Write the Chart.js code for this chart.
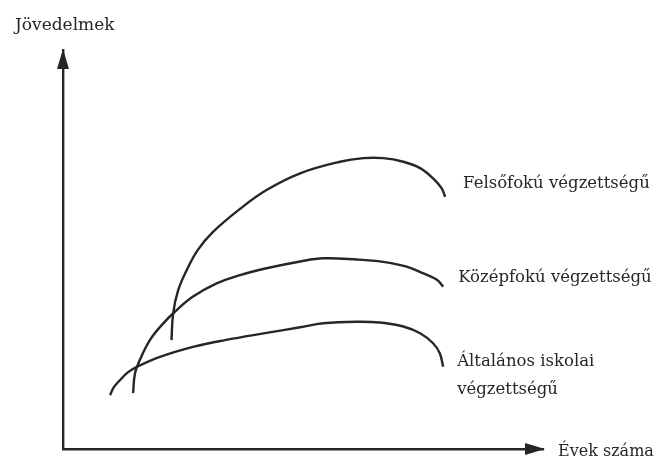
<!DOCTYPE html>
<html lang="hu">
<head>
<meta charset="utf-8">
<script src="https://cdn.jsdelivr.net/npm/chart.js@4.4.1/dist/chart.umd.min.js"></script>
<style>
  html, body { margin: 0; padding: 0; background: #fff; }
  canvas { display: block; }
</style>
</head>
<body>
<canvas id="chart" width="658" height="463"></canvas>
<script>
// earnings profiles (arbitrary units: x = years, y = income)
const higherYears  = [22.6, 22.95, 24.0, 25.8, 28.1, 31.25, 36.9, 42.4, 49.4, 57.7, 62.6, 66.7, 70.9, 74.4, 77.1, 78.9, 79.6];
const higherIncome = [27.3, 34.0, 39.8, 44.9, 49.9, 54.4, 60.2, 64.9, 69.1, 72.0, 72.9, 72.9, 72.0, 70.4, 67.8, 65.3, 63.2];

const secondaryYears  = [14.6, 15.0, 16.0, 18.1, 20.6, 23.3, 27.1, 32.0, 36.9, 42.4, 49.4, 54.2, 61.2, 66.7, 71.6, 75.1, 77.9, 79.2];
const secondaryIncome = [14.0, 19.0, 22.3, 27.3, 31.1, 34.4, 38.2, 41.5, 43.6, 45.3, 47.0, 47.8, 47.5, 46.9, 45.7, 44.0, 42.4, 40.7];

const primaryYears  = [9.8, 10.6, 11.9, 13.5, 15.4, 20.2, 27.1, 33.75, 42.4, 49.4, 54.2, 61.2, 66.0, 70.9, 74.4, 77.1, 78.5, 79.2];
const primaryIncome = [13.5, 15.5, 17.3, 19.2, 20.6, 23.1, 25.6, 27.3, 29.1, 30.5, 31.5, 31.9, 31.7, 30.7, 29.0, 26.5, 24.0, 20.6];

const seriesLabels = ['Felsőfokú végzettségű', 'Középfokú végzettségű', ['Általános iskolai', 'végzettségű']];
const xAxisTitle = 'Évek száma';
const yAxisTitle = 'Jövedelmek';

const ink = '#262626';
const font = '"DejaVu Serif", "Liberation Serif", serif';

function toPoints(xs, ys) {
  return xs.map((x, i) => ({ x: x, y: ys[i] }));
}

function curve(label, xs, ys) {
  return {
    label: label,
    data: toPoints(xs, ys),
    borderColor: ink,
    borderWidth: 2.4,
    pointRadius: 0,
    tension: 0.4,
    fill: false
  };
}

// arrow heads, axis titles and the curve labels
const sketchPlugin = {
  id: 'sketch',
  afterDraw(chart) {
    const { ctx, chartArea: area, scales } = chart;
    ctx.save();
    ctx.fillStyle = ink;

    // y arrow
    ctx.beginPath();
    ctx.moveTo(area.left, area.top - 1);
    ctx.lineTo(area.left - 6, area.top + 19);
    ctx.lineTo(area.left + 6, area.top + 19);
    ctx.closePath();
    ctx.fill();

    // x arrow
    ctx.beginPath();
    ctx.moveTo(area.right + 2, area.bottom);
    ctx.lineTo(area.right - 18, area.bottom - 6);
    ctx.lineTo(area.right - 18, area.bottom + 6);
    ctx.closePath();
    ctx.fill();

    ctx.textBaseline = 'middle';
    ctx.textAlign = 'left';
    ctx.font = '16px ' + font;
    ctx.fillText(xAxisTitle, area.right + 15, area.bottom + 3);

    ctx.font = '17px ' + font;
    ctx.fillText(yAxisTitle, area.left - 48, area.top - 24);

    // label each curve next to where it ends
    ctx.font = '16.5px ' + font;
    chart.data.datasets.forEach((ds, i) => {
      const last = ds.data[ds.data.length - 1];
      const px = scales.x.getPixelForValue(last.x);
      const py = scales.y.getPixelForValue(last.y);
      const lines = [].concat(seriesLabels[i]);
      const offsets = [[18, -13], [15, -9], [14, -5]][i];
      lines.forEach((line, j) => {
        ctx.fillText(line, px + offsets[0], py + offsets[1] + j * 28);
      });
    });
    ctx.restore();
  }
};

new Chart(document.getElementById('chart'), {
  type: 'line',
  data: {
    datasets: [
      curve(seriesLabels[0], higherYears, higherIncome),
      curve(seriesLabels[1], secondaryYears, secondaryIncome),
      curve(seriesLabels[2].join(' '), primaryYears, primaryIncome)
    ]
  },
  options: {
    responsive: false,
    animation: false,
    layout: { padding: { left: 63, top: 50, right: 115, bottom: 14 } },
    plugins: {
      legend: { display: false },
      tooltip: { enabled: false }
    },
    scales: {
      x: {
        type: 'linear',
        min: 0,
        max: 100,
        grid: { display: false, drawTicks: false },
        ticks: { display: false },
        border: { display: true, color: ink, width: 2.4 }
      },
      y: {
        type: 'linear',
        min: 0,
        max: 100,
        grid: { display: false, drawTicks: false },
        ticks: { display: false },
        border: { display: true, color: ink, width: 2.4 }
      }
    }
  },
  plugins: [sketchPlugin]
});
</script>
</body>
</html>
